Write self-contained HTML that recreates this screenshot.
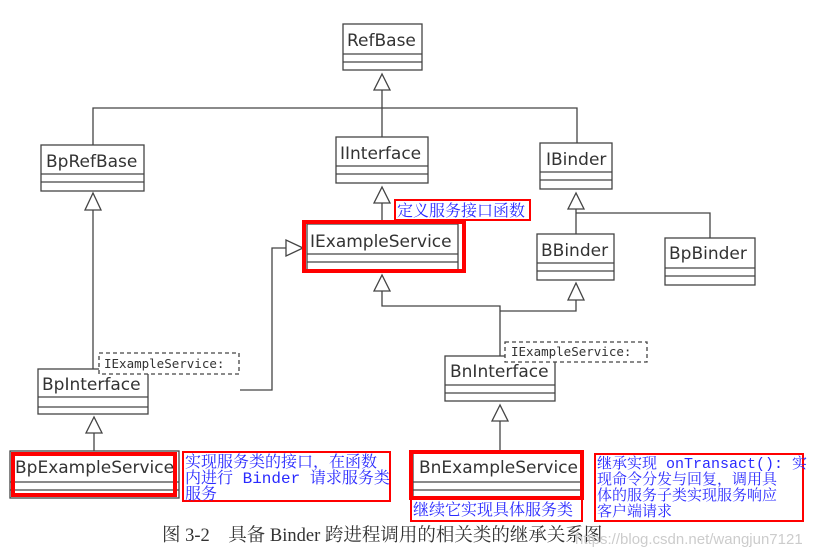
<!DOCTYPE html>
<html><head><meta charset="utf-8"><style>
html,body{margin:0;padding:0;background:#fff;}
svg{display:block;}
.c{font-family:"DejaVu Sans","Liberation Sans",sans-serif;font-size:17px;fill:#333;}
.m{font-family:"DejaVu Sans Mono","Liberation Mono",monospace;font-size:12.5px;fill:#333;}
.b{font-family:"Liberation Mono","Noto Serif CJK SC",monospace;font-size:16px;fill:#2a2aff;}
.r{font-family:"Liberation Mono","Noto Serif CJK SC",monospace;font-size:15px;fill:#2a2aff;}
</style></head><body>
<svg width="824" height="559" viewBox="0 0 824 559" xmlns="http://www.w3.org/2000/svg">
<g fill="none" stroke="#444" stroke-width="1.3">
<rect x="343" y="24" width="79" height="46"/><line x1="343" y1="54" x2="422" y2="54"/><line x1="343" y1="62" x2="422" y2="62"/>
<rect x="41" y="145" width="103" height="46"/><line x1="41" y1="174" x2="144" y2="174"/><line x1="41" y1="182" x2="144" y2="182"/>
<rect x="336" y="137" width="92" height="46"/><line x1="336" y1="166" x2="428" y2="166"/><line x1="336" y1="174" x2="428" y2="174"/>
<rect x="540" y="143" width="72" height="46"/><line x1="540" y1="172" x2="612" y2="172"/><line x1="540" y1="180" x2="612" y2="180"/>
<rect x="537" y="234" width="77" height="46"/><line x1="537" y1="263" x2="614" y2="263"/><line x1="537" y1="271" x2="614" y2="271"/>
<rect x="665" y="238" width="90" height="47"/><line x1="665" y1="268" x2="755" y2="268"/><line x1="665" y1="276" x2="755" y2="276"/>
<rect x="307" y="224" width="151" height="46"/><line x1="307" y1="254" x2="458" y2="254"/><line x1="307" y1="262" x2="458" y2="262"/>
<rect x="38" y="369" width="110" height="45"/><line x1="38" y1="397" x2="148" y2="397"/><line x1="38" y1="407" x2="148" y2="407"/>
<rect x="445" y="356" width="110" height="45"/><line x1="445" y1="385" x2="555" y2="385"/><line x1="445" y1="393" x2="555" y2="393"/>
<rect x="10" y="451" width="169" height="47"/><line x1="10" y1="482" x2="179" y2="482"/><line x1="10" y1="490" x2="179" y2="490"/>
<rect x="413" y="453" width="168" height="45"/><line x1="413" y1="482" x2="581" y2="482"/><line x1="413" y1="490" x2="581" y2="490"/>
<polyline points="382,90 382,108"/><polyline points="93,145 93,108 577,108 577,143"/><line x1="382" y1="108" x2="382" y2="137"/>
<line x1="93" y1="210" x2="93" y2="369"/>
<line x1="382" y1="203" x2="382" y2="224"/>
<polyline points="286,248 272,248 272,390 240,390"/>
<polyline points="382,291 382,306 500,306 500,356"/>
<polyline points="576,300 576,311 500,311"/>
<polyline points="576,209 576,234"/><polyline points="576,213 710,213 710,238"/>
<line x1="94" y1="433" x2="94" y2="451"/>
<line x1="500" y1="421" x2="500" y2="453"/>
<polygon points="382,74 374,90 390,90" fill="#fff"/>
<polygon points="93,193 85,210 101,210" fill="#fff"/>
<polygon points="382,187 374,203 390,203" fill="#fff"/>
<polygon points="576,193 568,209 584,209" fill="#fff"/>
<polygon points="382,275 374,291 390,291" fill="#fff"/>
<polygon points="576,283 568,300 584,300" fill="#fff"/>
<polygon points="303,248 286,240 286,256" fill="#fff"/>
<polygon points="94,417 86,433 102,433" fill="#fff"/>
<polygon points="500,405 492,421 508,421" fill="#fff"/>
<rect x="99" y="353" width="140" height="21" stroke-dasharray="4,3" fill="#fff"/>
<rect x="505" y="342" width="142" height="20" stroke-dasharray="4,3" fill="#fff"/>
</g>
<g fill="none" stroke="#f00">
<rect x="304" y="222" width="160" height="49" stroke-width="4"/>
<rect x="13" y="454" width="162" height="41" stroke-width="4"/>
<rect x="411" y="452" width="171" height="46" stroke-width="4"/>
<rect x="395" y="200" width="135" height="20" stroke-width="2"/>
<rect x="183" y="452" width="207" height="49" stroke-width="2"/>
<rect x="411" y="498" width="171" height="23" stroke-width="2"/>
<rect x="595" y="454" width="208" height="67" stroke-width="2"/>
</g>
<text class="c" x="347" y="46">RefBase</text>
<text class="c" x="46" y="167">BpRefBase</text>
<text class="c" x="340" y="159">IInterface</text>
<text class="c" x="546" y="165">IBinder</text>
<text class="c" x="541" y="256">BBinder</text>
<text class="c" x="669" y="259">BpBinder</text>
<text class="c" x="310" y="247">IExampleService</text>
<text class="c" x="42" y="390">BpInterface</text>
<text class="c" x="450" y="377">BnInterface</text>
<text class="c" x="15" y="473">BpExampleService</text>
<text class="c" x="419" y="473">BnExampleService</text>
<text class="m" x="104" y="368">IExampleService:</text>
<text class="m" x="511" y="356">IExampleService:</text>
<text class="b" x="397" y="216">定义服务接口函数</text>
<text class="b" x="185" y="467">实现服务类的接口，在函数</text>
<text class="b" x="185" y="483">内进行 Binder 请求服务类</text>
<text class="b" x="185" y="499">服务</text>
<text class="b" x="413" y="515">继续它实现具体服务类</text>
<text class="r" x="597" y="468">继承实现 onTransact(): 实</text>
<text class="r" x="597" y="484">现命令分发与回复，调用具</text>
<text class="r" x="597" y="500">体的服务子类实现服务响应</text>
<text class="r" x="597" y="516">客户端请求</text>
<text x="162" y="541" style="font-family:'Liberation Serif','Noto Serif CJK SC',serif;font-size:18.5px;fill:#333" xml:space="preserve">图 3-2    具备 Binder 跨进程调用的相关类的继承关系图</text>
<text x="575" y="544" style="font-family:'Liberation Sans',sans-serif;font-size:15px;fill:#ccc">https://blog.csdn.net/wangjun7121</text>
</svg>
</body></html>
